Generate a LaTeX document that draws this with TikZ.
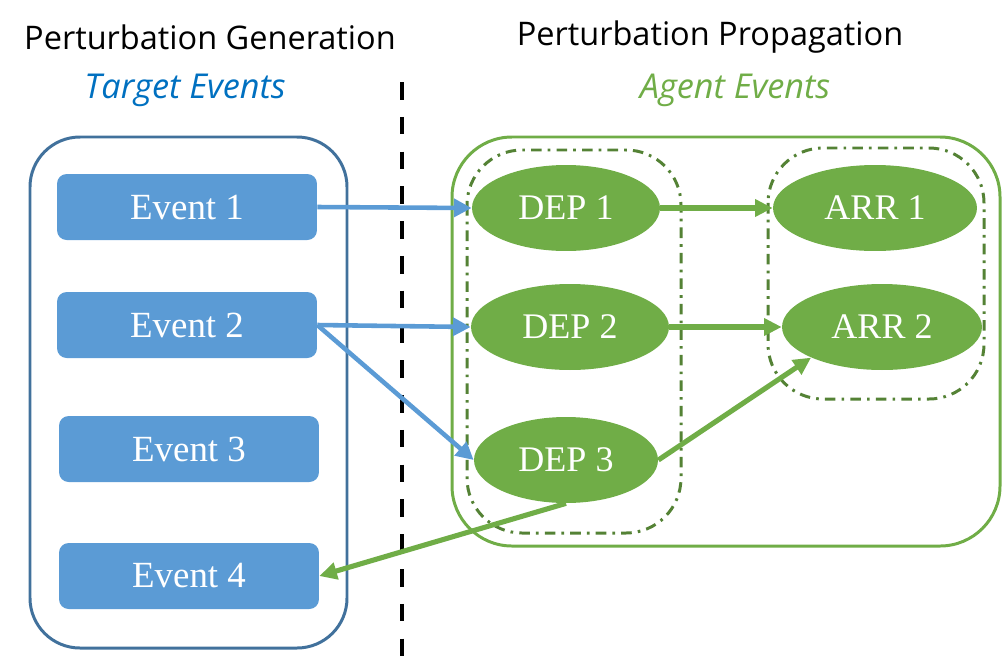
\documentclass[tikz,border=0pt]{standalone}
\usepackage{fontspec}
\setmainfont{Liberation Serif}
\newfontfamily\headfont{Open Sans}
\usetikzlibrary{arrows.meta,positioning,shapes.geometric}

\definecolor{evblue}{HTML}{5B9BD5}
\definecolor{boxblue}{HTML}{41719C}
\definecolor{agreen}{HTML}{70AD47}
\definecolor{dkgreen}{HTML}{548235}
\definecolor{tblue}{HTML}{0070C0}

\begin{document}
\begin{tikzpicture}[
            x=0.02cm, y=-0.02cm,
            evnode/.style={fill=evblue, rounded corners=5.5pt, minimum width=5.2cm, minimum height=1.32cm, inner sep=0pt, text=white, font=\fontsize{21}{25}\selectfont},
            ellnode/.style={ellipse, fill=agreen, minimum height=1.72cm, inner sep=0pt, text=white, font=\fontsize{20.5}{24}\selectfont},
            htitle/.style={font=\headfont\fontsize{18.5}{22}\selectfont},
            hlabel/.style={font=\headfont\itshape\fontsize{19.5}{23}\selectfont},
            grpbox/.style={draw=dkgreen, line width=1.7pt, dash pattern=on 6pt off 3.5pt on 1.5pt off 3.5pt},
            bluearr/.style={draw=evblue, line width=2.6pt, -{Triangle[length=10pt, width=10pt]}},
            greenarr/.style={draw=agreen, line width=2.9pt, -{Triangle[length=10pt, width=9.5pt]}}
        ]
            \useasboundingbox (0,0) rectangle (1003,670);

            % headings
            \node[htitle] (gen) at (210,37) {Perturbation Generation};
            \node[htitle] (prop) at (710,37) {Perturbation Propagation};
            \node[hlabel, text=tblue] (target) at (185,90) {Target Events};
            \node[hlabel, text=agreen] (agent) at (735,90) {Agent Events};

            % separator and frames
            \draw[line width=2.8pt, dash pattern=on 10pt off 9.8pt] (402,82) -- (402,662);
            \draw[draw=boxblue, line width=1.7pt, rounded corners=1cm] (30,137) rectangle (347,648);
            \draw[draw=agreen, line width=1.7pt, rounded corners=1.2cm] (452,137) rectangle (1000,546);
            \draw[grpbox, rounded corners=1.1cm] (467,150) rectangle (681,533);
            \draw[grpbox, rounded corners=1.1cm] (768,148) rectangle (984,399);

            % events
            \node[evnode] (ev1) at (187,207) {Event 1};
            \node[evnode] (ev2) at (187,325) {Event 2};
            \node[evnode] (ev3) at (189,449) {Event 3};
            \node[evnode] (ev4) at (189,576) {Event 4};

            % agent events
            \node[ellnode, minimum width=3.76cm] (dep1) at (566,208) {DEP 1};
            \node[ellnode, minimum width=3.96cm] (dep2) at (570,327) {DEP 2};
            \node[ellnode, minimum width=3.68cm] (dep3) at (566,460) {DEP 3};
            \node[ellnode, minimum width=4.08cm] (arr1) at (875,208) {ARR 1};
            \node[ellnode, minimum width=4.0cm] (arr2) at (882,327) {ARR 2};

            \draw[bluearr] (ev1.east) -- (dep1.west);
            \draw[bluearr] (ev2.east) -- (dep2.west);
            \draw[bluearr] (ev2.east) -- (dep3.west);
            \draw[greenarr] (dep1.east) -- (arr1.west);
            \draw[greenarr] (dep2.east) -- (arr2.west);
            \draw[greenarr] (dep3.east) -- (arr2.south west);
            \draw[greenarr] (dep3.south) -- (ev4.east);
        \end{tikzpicture}
\end{document}
